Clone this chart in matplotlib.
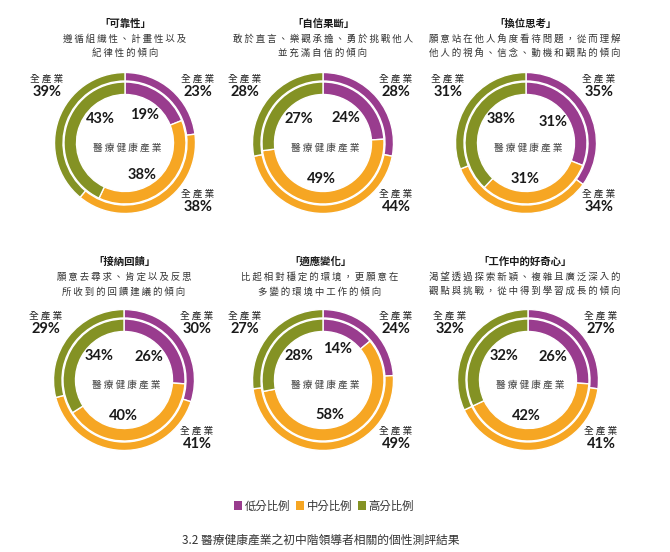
import numpy as np
import matplotlib
matplotlib.use("Agg")
import matplotlib.pyplot as plt
from matplotlib.patches import Patch

W, H = 670, 552
CJK = ['Noto Sans CJK TC', 'DejaVu Sans']
NUM = ['Lato', 'DejaVu Sans']

# ---------------- data ----------------
titles = ["「可靠性」", "「自信果斷」", "「換位思考」",
          "「接納回饋」", "「適應變化」", "「工作中的好奇心」"]
subtitles = [
    ["遵循組織性、計畫性以及", "紀律性的傾向"],
    ["敢於直言、樂觀承擔、勇於挑戰他人", "並充滿自信的傾向"],
    ["願意站在他人角度看待問題，從而理解", "他人的視角、信念、動機和觀點的傾向"],
    ["願意去尋求、肯定以及反思", "所收到的回饋建議的傾向"],
    ["比起相對穩定的環境，更願意在", "多變的環境中工作的傾向"],
    ["渴望透過探索新穎、複雜且廣泛深入的", "觀點與挑戰，從中得到學習成長的傾向"],
]
categories = ["低分比例", "中分比例", "高分比例"]
# outer ring: 全產業 (low, mid, high)
industry_all = [[23, 38, 39], [28, 44, 28], [35, 34, 31],
                [30, 41, 29], [24, 49, 27], [27, 41, 32]]
# inner ring: 醫療健康產業 (low, mid, high)
healthcare = [[19, 38, 43], [24, 49, 27], [31, 31, 38],
              [26, 40, 34], [14, 58, 28], [26, 42, 32]]
outer_name = "全產業"
inner_name = "醫療健康產業"
legend_labels = categories
caption = "3.2 醫療健康產業之初中階領導者相關的個性測評結果"

colors = ["#993C8E", "#F6A623", "#849224"]

# ---------------- layout ----------------
centers = [(125, 143), (323, 143), (526, 143),
           (124, 380), (323, 380), (528, 380)]
title_x = [125, 323, 525, 124, 320, 525]
R_OUT, W_OUT = 70.5, 8.5
R_IN, W_IN = 61.0, 12.5


def spaced(s):
    return "\u2009".join(s)


fig = plt.figure(figsize=(W / 100, H / 100), dpi=100)
ax = fig.add_axes([0, 0, 1, 1])


def Y(py):
    return H - py


for i in range(6):
    cx, cy = centers[i]
    c = (cx, Y(cy))
    ax.pie(industry_all[i], radius=R_OUT, center=c, startangle=90,
           counterclock=False, colors=colors,
           wedgeprops=dict(width=W_OUT, edgecolor='white', linewidth=1.0))
    ax.pie(healthcare[i], radius=R_IN, center=c, startangle=90,
           counterclock=False, colors=colors,
           wedgeprops=dict(width=W_IN, edgecolor='white', linewidth=1.0))

    # titles
    ty = 24 if i < 3 else 262
    ax.text(title_x[i], Y(ty), titles[i], family=CJK, fontsize=7.5,
            fontweight='bold', color='#1a1a1a', ha='center', va='center')
    for k, line in enumerate(subtitles[i]):
        ax.text(title_x[i], Y(ty + 15 + 14.5 * k), spaced(line), family=CJK,
                fontsize=6.8, color='#333333', ha='center', va='center')

    # inner percentage labels at segment mid angles
    vals = np.array(healthcare[i], dtype=float)
    cum = np.cumsum(vals) - vals / 2
    mids = 90 - cum / vals.sum() * 360
    angs = [np.clip(mids[0], 38, 72),
            np.clip(mids[1] - 15, -92, -58),
            np.clip(mids[2], 136, 142)]
    rads = [34, 36, 34]
    for v, a, r in zip(healthcare[i], angs, rads):
        x = cx + r * np.cos(np.radians(a))
        y = Y(cy) + r * np.sin(np.radians(a))
        ax.text(x, y, f"{v}%", family=NUM, fontweight='bold', fontsize=10.5,
                color='#1a1a1a', ha='center', va='center')
    ax.text(cx + 2, Y(cy + 5), spaced(inner_name), family=CJK, fontsize=7.0,
            color='#444444', ha='center', va='center')

    # outer 全產業 labels
    pos = [(cx + 73, cy - 64), (cx + 73, cy + 51), (cx - 78, cy - 64)]
    for v, (px, py) in zip(industry_all[i], pos):
        ax.text(px, Y(py), spaced(outer_name), family=CJK, fontsize=7.0,
                color='#222222', ha='center', va='center')
        ax.text(px, Y(py + 13), f"{v}%", family=NUM, fontweight='bold',
                fontsize=10.5, color='#1a1a1a', ha='center', va='center')

ax.set_xlim(0, W)
ax.set_ylim(0, H)
ax.set_aspect('auto')
ax.axis('off')

handles = [Patch(facecolor=col, edgecolor='none') for col in colors]
fig.legend(handles, legend_labels, loc='center',
           bbox_to_anchor=(324 / W, 1 - 506 / H), ncol=3, frameon=False,
           handlelength=0.75, handleheight=0.75, handletextpad=0.2,
           columnspacing=0.5, prop=dict(family=CJK, size=8.2),
           labelcolor='#333333')

fig.text(182 / W, 1 - 540 / H, caption, family=CJK, fontsize=8.5,
         color='#333333', ha='left', va='center')

fig.savefig("out.png", dpi=100, facecolor='white')
